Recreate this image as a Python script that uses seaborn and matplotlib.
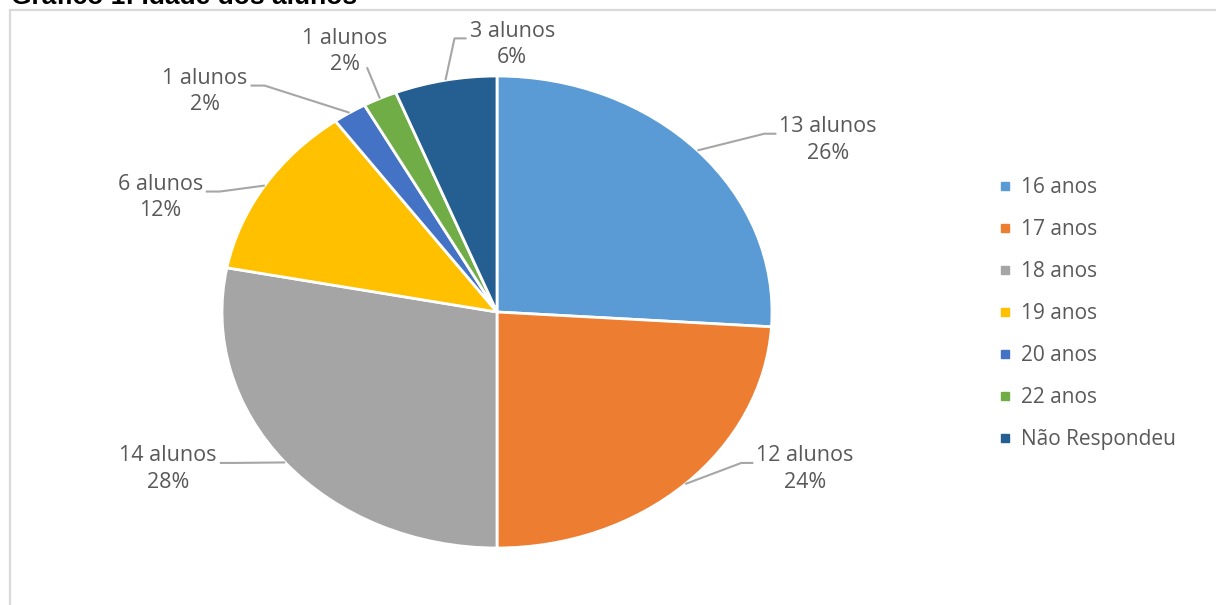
import matplotlib
matplotlib.use('Agg')
import matplotlib.pyplot as plt
import seaborn as sns
import numpy as np
from matplotlib.lines import Line2D
from matplotlib.patches import Rectangle

# ---- data ----
title = 'Gráfico 1: Idade dos alunos'
categories = ['16 anos', '17 anos', '18 anos', '19 anos', '20 anos', '22 anos', 'Não Respondeu']
counts = [13, 12, 14, 6, 1, 1, 3]
percent_labels = ['26%', '24%', '28%', '12%', '2%', '2%', '6%']
colors = ['#5B9BD5', '#ED7D31', '#A5A5A5', '#FFC000', '#4472C4', '#70AD47', '#255E91']

# ---- layout (label centres in pie units, radius = 1) ----
label_xy = [(1.204, 0.730), (1.12, -0.665), (-1.196, -0.665), (-1.225, 0.485),
            (-1.062, 0.934), (-0.553, 1.104), (0.055, 1.134)]
label_side = ['right', 'right', 'left', 'left', 'left', 'top', 'right']

sns.set_theme(style='white')
plt.rcParams['font.family'] = ['Open Sans', 'DejaVu Sans']

W, H = 1216, 605
fig = plt.figure(figsize=(W / 100, H / 100), dpi=100)
fig.patch.set_facecolor('white')

# border of chart area
fig.add_artist(Rectangle((10 / W, -0.05), 1.2, (H - 10) / H + 0.05, transform=fig.transFigure,
                         fill=False, edgecolor='#D9D9D9', linewidth=1.6))

ax = fig.add_axes([0, 0, 1, 1])
wedges, _ = ax.pie(counts, colors=colors, startangle=90, counterclock=False,
                   wedgeprops=dict(edgecolor='white', linewidth=2))
cx, cy, rx, ry = 497, 312, 275, 236
ax.set_aspect('auto')
ax.set_xlim(-cx / rx, (W - cx) / rx)
ax.set_ylim(-(H - cy) / ry, cy / ry)
ax.axis('off')

texts = []
for (x, y), c, p in zip(label_xy, counts, percent_labels):
    t = ax.text(x, y, f'{c} alunos\n{p}', ha='center', va='center', fontsize=15.5,
                color='#595959', linespacing=1.35)
    texts.append(t)

fig.canvas.draw()
r = fig.canvas.get_renderer()
inv = ax.transData.inverted()
for w, t, side in zip(wedges, texts, label_side):
    ang = np.deg2rad((w.theta1 + w.theta2) / 2)
    sx, sy = ax.transData.transform((np.cos(ang), np.sin(ang)))
    bb = t.get_window_extent(r)
    ymid = (bb.y0 + bb.y1) / 2 + 6
    if side == 'right':
        ex, ey = bb.x0 - 3, ymid
        pts = [(sx, sy), (ex - 12, ey), (ex, ey)]
    elif side == 'left':
        ex, ey = bb.x1 + 3, ymid
        pts = [(sx, sy), (ex + 14, ey), (ex, ey)]
    else:
        ex, ey = (bb.x0 + bb.x1) / 2 + 22, bb.y0 + 8
        pts = [(sx, sy), (ex, ey)]
    d = inv.transform(pts)
    ax.plot(d[:, 0], d[:, 1], color='#A6A6A6', linewidth=1.5, solid_capstyle='butt')

handles = [Line2D([], [], marker='s', linestyle='', markersize=6, markerfacecolor=c,
                  markeredgecolor=c) for c in colors]
fig.legend(handles, categories, loc='upper left', bbox_to_anchor=(997 / W, 1 - 177 / H),
           frameon=False, prop={'size': 15}, labelcolor='#595959', labelspacing=1.01,
           handlelength=0.75, handletextpad=0.42, borderpad=0, borderaxespad=0)

fig.text(11 / W, 1 - 4 / H, title, ha='left', va='baseline', fontsize=19, fontweight='bold',
         family=['Liberation Sans', 'DejaVu Sans'], color='black')

fig.savefig('out.png', dpi=100)
